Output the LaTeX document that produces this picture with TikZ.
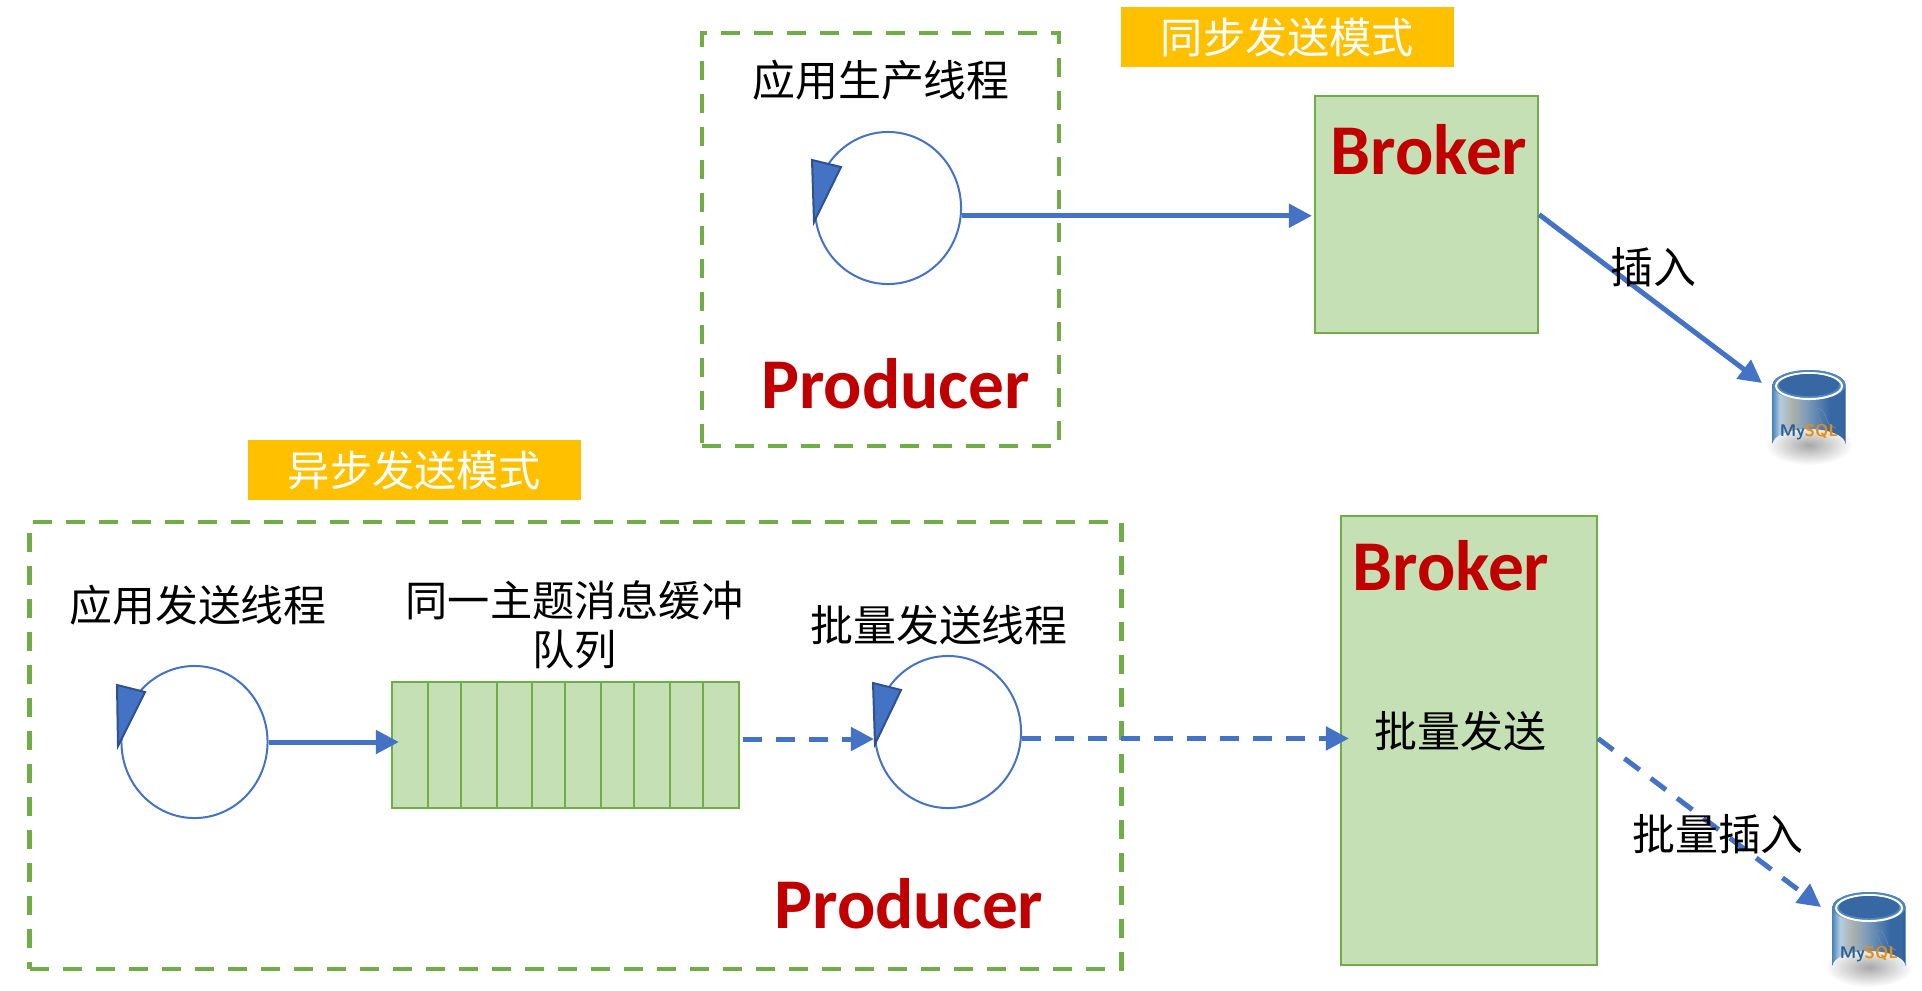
\documentclass[tikz,border=0pt]{standalone}
\usepackage{fontspec}
\setmainfont{Noto Sans CJK SC}
\newfontfamily\titlefont{Carlito}
\usetikzlibrary{arrows.meta,positioning,shapes.geometric}
\definecolor{flowblue}{HTML}{4472C4}
\definecolor{flowdark}{HTML}{2F528F}
\definecolor{boxgreen}{HTML}{C5E0B4}
\definecolor{linegreen}{HTML}{70AD47}
\definecolor{tagyellow}{HTML}{FFC000}
\definecolor{titlered}{HTML}{C00000}
\definecolor{dbtop}{HTML}{4F86BC}
\definecolor{dbwell}{HTML}{3768A4}
\definecolor{dbnavy}{HTML}{2A5E95}
\definecolor{dborange}{HTML}{E58E12}
\definecolor{dbpale}{HTML}{B4CDE2}
\definecolor{dbsand}{HTML}{ADB2AC}
\definecolor{dbmid}{HTML}{7F9DBA}
\definecolor{dbshadow}{HTML}{A8A8A8}
\pgfdeclarehorizontalshading{dbbody}{100bp}{
  color(0bp)=(dbtop);
  color(25bp)=(dbtop);
  color(30bp)=(dbpale);
  color(38bp)=(dbsand);
  color(48bp)=(dbmid);
  color(64bp)=(dbwell);
  color(72bp)=(dbwell);
  color(75bp)=(dbnavy);
  color(100bp)=(dbnavy)}
\tikzstyle{label}=[inner sep=0pt,font=\fontsize{12.2}{14}\selectfont]
\tikzstyle{title}=[inner sep=0pt,text=titlered,font=\titlefont\bfseries\fontsize{20.3}{24}\selectfont]
\tikzstyle{tag}=[fill=tagyellow,text=white,inner sep=0pt,minimum width=3.33cm,minimum height=0.6cm,font=\fontsize{12}{14}\selectfont]
\tikzstyle{producer}=[draw=linegreen,line width=0.045cm,dash pattern=on 0.19cm off 0.14cm,inner sep=0pt]
\tikzstyle{greenbox}=[draw=linegreen,fill=boxgreen,line width=0.02cm,inner sep=0pt]
\tikzstyle{thread}=[ellipse,draw=flowblue,line width=0.02cm,inner sep=0pt,minimum width=1.46cm,minimum height=1.52cm]
\tikzstyle{spin}=[fill=flowblue,draw=flowdark,line width=0.02cm,line join=miter]
\tikzstyle{flow}=[draw,flowblue,line width=0.05cm,-{Triangle[length=0.23cm,width=0.23cm]}]
\tikzstyle{batch}=[flow,dash pattern=on 0.19cm off 0.14cm]
\tikzset{dbicon/.pic={
  \shade[inner color=dbshadow,outer color=white] (0,60) ellipse (44 and 20);
  \path[shading=dbbody] (-36.5,0) -- (-36.5,59) arc (180:360:36.5 and 15) -- (36.5,0) arc (0:-180:36.5 and 15) -- cycle;
  \fill[dbtop] (0,0) ellipse (36.5 and 15);
  \draw[white,line width=0.02cm] (0,1) ellipse (33 and 13);
  \fill[dbwell] (0,0) ellipse (30 and 11);
  \draw[dbnavy!70,line width=0.006cm] (7,24) .. controls (14,21) and (17,32) .. (19,38) .. controls (22,41) and (24,42) .. (27,43);
  \draw[dbnavy!70,line width=0.006cm] (7,24) .. controls (9,32) and (13,38) .. (15,43);
  \node[inner sep=0pt,font=\sffamily\bfseries\fontsize{4.8}{6}\selectfont] (-pname) at (0,47) {\textcolor{dbnavy}{My}\textcolor{dborange}{SQL}};
}}

\begin{document}
\begin{tikzpicture}[x=0.01cm,y=-0.01cm]
\useasboundingbox (0,0) rectangle (1922,990);
\node[producer,minimum width=3.57cm,minimum height=4.13cm] (P1) at (880.5,239.5) {};
\node[producer,minimum width=10.91cm,minimum height=4.47cm] (P2) at (575.5,745.5) {};
\node[tag] (S1) at (1287.5,37) {同步发送模式};
\node[tag] (S2) at (414.5,470) {异步发送模式};
\node[greenbox,minimum width=2.23cm,minimum height=2.37cm] (B1) at (1426.5,214.5) {};
\node[greenbox,minimum width=2.56cm,minimum height=4.49cm] (B2) at (1469,740.5) {};
\node[greenbox,minimum width=3.47cm,minimum height=1.26cm] (Q) at (565.5,745) {};
\foreach \x in {428,461,497,532,565,601,634,670,703}
  \draw[linegreen,line width=0.02cm] (\x,682) -- (\x,808);
\node[thread] (T1) at (888,208) {};
\node[thread] (T2) at (194.5,742) {};
\node[thread] (T3) at (948,732) {};
\draw[spin] (812,160) -- (841,167) -- (814,222) -- cycle;
\draw[spin] (117,685) -- (145,692) -- (118,746) -- cycle;
\draw[spin] (873,683) -- (901,690) -- (875,744) -- cycle;
\pic (D1) at (1809,385) {dbicon};
\pic (D2) at (1869,907) {dbicon};
\coordinate (E1) at (1762,383);
\coordinate (E2) at (1821,907);
\path[every edge/.style=flow]
(T1.-6) edge ([xshift=-0.02cm]T1.-6 -| B1.west)
(B1.east) edge (E1)
(T2.east) edge ([xshift=0.08cm]T2.east -| Q.west);
\path[every edge/.style=batch]
([xshift=0.03cm,yshift=0.06cm]Q.east) edge ([yshift=0.06cm]Q.east -| T3.west)
(T3.-5) edge ([xshift=0.09cm]T3.-5 -| B2.west)
([yshift=0.02cm]B2.east) edge (E2);
\node[label] (L1) at (881,80) {应用生产线程};
\node[label] (L2) at (198,605) {应用发送线程};
\node[label,align=center,font=\fontsize{12}{14}\selectfont] (L3) at (574.5,625) {同一主题消息缓冲\\队列};
\node[label] (L4) at (939,625) {批量发送线程};
\node[label] (L5) at (1460.5,731) {批量发送};
\node[label] (L6) at (1653.5,267) {插入};
\node[label] (L7) at (1718,834) {批量插入};
\node[title] (N1) at (895.5,384) {Producer};
\node[title] (N2) at (909,904) {Producer};
\node[title] (N3) at (1429,150) {Broker};
\node[title] (N4) at (1451,566) {Broker};
\end{tikzpicture}
\end{document}
